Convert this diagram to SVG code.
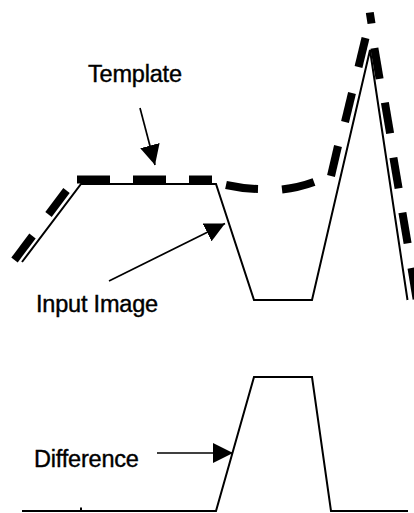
<svg xmlns="http://www.w3.org/2000/svg" width="414" height="513" viewBox="0 0 414 513">
<style>
.bg{fill:#ffffff}
.solid{fill:none;stroke:#000;stroke-width:2;stroke-linejoin:miter}
.dash{fill:none;stroke:#000;stroke-width:8;stroke-linecap:butt}
.arrow{fill:none;stroke:#000;stroke-width:1.7}
.lbl{font-family:"Liberation Sans",Arial,sans-serif;font-size:23.5px;fill:#000;stroke:#000;stroke-width:0.4;letter-spacing:-0.2px}
</style>
<defs>
<marker id="ah" markerUnits="userSpaceOnUse" markerWidth="20" markerHeight="20" refX="20" refY="10" orient="auto">
<path d="M0,0 L20,10 L0,20 z" fill="#000"/>
</marker>
</defs>
<rect class="bg" x="0" y="0" width="414" height="513"/>
<g id="template">
<line class="dash" x1="14.5" y1="260" x2="32.5" y2="236"/>
<line class="dash" x1="48.5" y1="214.5" x2="66.5" y2="190.5"/>
<line class="dash" x1="77" y1="179.5" x2="110" y2="179.5"/>
<line class="dash" x1="133" y1="179.5" x2="166" y2="179.5"/>
<line class="dash" x1="189" y1="179.5" x2="212" y2="179.5"/>
<path class="dash" d="M226,185 Q242,188.5 258,189"/>
<path class="dash" d="M282,189.5 Q299,187.5 314,182"/>
<line class="dash" x1="331" y1="176" x2="338" y2="146"/>
<line class="dash" x1="345" y1="122" x2="352" y2="93"/>
<line class="dash" x1="358.5" y1="67" x2="365.5" y2="38"/>
<line class="dash" x1="369.8" y1="12.5" x2="371.5" y2="23.5"/>
<line class="dash" x1="374.4" y1="48.2" x2="379.6" y2="78.8"/>
<line class="dash" x1="384.9" y1="102.7" x2="390.1" y2="133.3"/>
<line class="dash" x1="393.4" y1="157.7" x2="398.6" y2="188.3"/>
<line class="dash" x1="402.4" y1="212.7" x2="407.6" y2="243.3"/>
<line class="dash" x1="411.5" y1="268" x2="416.6" y2="299"/>
</g>
<g id="input-image">
<polyline class="solid" points="22,262 81,184 216,184 254,300 312,300 370,50 407.5,300"/>
</g>
<g id="difference">
<polyline class="solid" points="22,511 216,511 254,377 312,377 331,511 408,511"/>
<line class="solid" x1="81" y1="507.5" x2="81" y2="511"/>
</g>
<g id="connectors">
<line class="arrow" x1="140" y1="108" x2="155" y2="165" marker-end="url(#ah)"/>
<line class="arrow" x1="109" y1="281" x2="225" y2="223.5" marker-end="url(#ah)"/>
<line class="arrow" x1="157" y1="453" x2="233" y2="453" marker-end="url(#ah)"/>
</g>
<g id="labels">
<text id="label-template" class="lbl" x="88" y="82">Template</text>
<text id="label-input" class="lbl" x="36" y="312">Input Image</text>
<text id="label-difference" class="lbl" x="34" y="467">Difference</text>
</g>
</svg>
